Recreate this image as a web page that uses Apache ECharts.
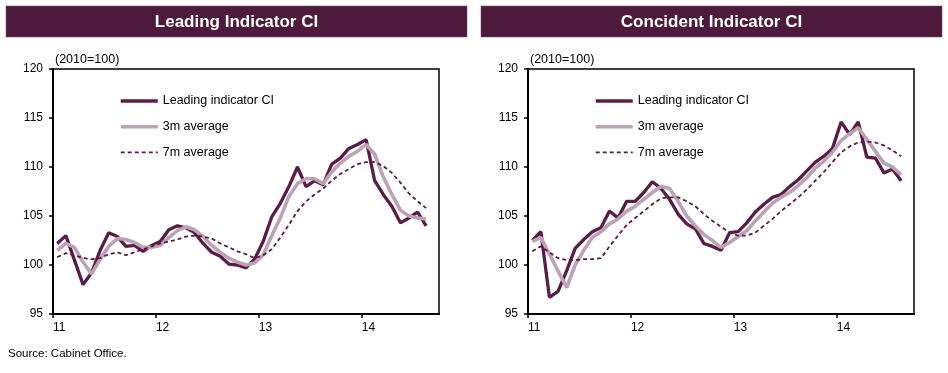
<!DOCTYPE html>
<html>
<head>
<meta charset="utf-8">
<script src="https://cdn.jsdelivr.net/npm/echarts@6/dist/echarts.min.js"></script>
<style>
html,body{margin:0;padding:0;background:#fff;}
#main{width:948px;height:373px;}
</style>
</head>
<body>
<div id="main"></div>
<script>
// Year tick labels (Jan of each year)
const yearLabels = ['11', '12', '13', '14'];
const seriesNames = ['Leading indicator CI', '3m average', '7m average'];

// Monthly values, Jan 2011 .. Aug 2014 (2010=100)
const leadingCI = [102.2, 103.0, 100.5, 98.0, 99.2, 101.5, 103.3, 102.9, 101.9, 102.0, 101.4, 102.0,
  102.4, 103.6, 104.0, 103.8, 103.3, 102.2, 101.3, 100.9, 100.1, 100.0, 99.7, 100.6,
  102.4, 104.9, 106.3, 108.0, 110.0, 108.0, 108.6, 108.2, 110.3, 110.9, 111.9, 112.3,
  112.8, 108.6, 107.2, 106.0, 104.3, 104.8, 105.4, 104.0];
const leading3m = [101.5, 102.2, 101.8, 100.3, 99.1, 100.6, 101.9, 102.7, 102.6, 102.3, 101.8, 101.8,
  102.0, 102.8, 103.5, 103.9, 103.6, 102.9, 102.0, 101.3, 100.7, 100.3, 100.0, 100.2,
  101.0, 103.0, 104.8, 107.0, 108.3, 108.8, 108.8, 108.3, 109.5, 110.4, 111.1, 111.6,
  112.3, 111.3, 109.0, 107.2, 105.6, 105.0, 104.8, 104.7];
const leading7m = [100.8, 101.2, 101.0, 100.7, 100.6, 100.7, 101.1, 101.3, 101.0, 101.3, 101.6, 101.9,
  102.2, 102.4, 102.6, 102.9, 103.0, 102.9, 102.7, 102.2, 101.8, 101.4, 101.1, 100.7,
  101.0, 101.6, 102.8, 104.1, 105.5, 106.5, 107.2, 107.8, 108.6, 109.3, 109.8, 110.3,
  110.5, 110.5, 110.1, 109.4, 108.4, 107.3, 106.5, 105.8];

const coincidentCI = [102.5, 103.4, 96.7, 97.3, 99.4, 101.7, 102.6, 103.4, 103.8, 105.5, 104.8, 106.5,
  106.5, 107.4, 108.5, 107.8, 106.7, 105.2, 104.2, 103.7, 102.2, 101.9, 101.5, 103.3,
  103.4, 104.3, 105.4, 106.2, 106.9, 107.2, 108.0, 108.7, 109.6, 110.5, 111.1, 111.9,
  114.6, 113.3, 114.6, 111.0, 110.9, 109.4, 109.8, 108.6];
const coincident3m = [102.4, 102.8, 101.1, 99.4, 97.7, 100.0, 101.5, 102.8, 103.4, 104.2, 104.7, 105.5,
  106.0, 106.7, 107.4, 108.0, 107.8, 106.5, 105.0, 104.0, 103.1, 102.5, 101.8, 102.3,
  102.9, 103.5, 104.5, 105.4, 106.3, 106.9, 107.4, 108.1, 108.9, 109.9, 110.6, 111.5,
  112.7, 113.4, 114.0, 112.8, 111.6, 110.4, 110.0, 109.2];
const coincident7m = [101.4, 101.9, 101.3, 100.7, 100.5, 100.5, 100.6, 100.6, 100.7, 101.9, 103.0, 104.1,
  104.8, 105.5, 106.2, 106.8, 106.9, 106.9, 106.5, 106.0, 105.2, 104.5, 103.9, 103.3,
  103.0, 103.0, 103.3, 104.0, 104.7, 105.5, 106.2, 106.9, 107.7, 108.6, 109.5, 110.5,
  111.5, 112.1, 112.5, 112.6, 112.5, 112.2, 111.7, 111.1];

const DARK = '#5A1C45';
const LIGHT = '#BBA3B3';
const BAR = '#4E1A3B';
const FONT = '"Liberation Sans", Arial, sans-serif';
const YEAR_TICKS = [0, 12, 24, 36];

// month index -> mid-month position on the month axis
function pts(arr) { return arr.map((v, i) => [i + 0.5, v]); }

function xAxisFor(g) {
  return {
    type: 'value', gridIndex: g, min: 0, max: 45,
    axisLine: { show: true, onZero: false, lineStyle: { color: '#000', width: 2 } },
    axisTick: { show: true, length: 4, customValues: YEAR_TICKS, lineStyle: { color: '#000', width: 1.5 } },
    axisLabel: {
      customValues: YEAR_TICKS,
      formatter: v => yearLabels[Math.round(v / 12)] || '',
      align: 'left', margin: 8, fontSize: 12, color: '#000', fontFamily: FONT
    },
    splitLine: { show: false }
  };
}
function yAxisFor(g) {
  return {
    type: 'value', gridIndex: g, min: 95, max: 120, interval: 5,
    axisLine: { show: true, lineStyle: { color: '#000', width: 2 } },
    axisTick: { show: true, length: 4, lineStyle: { color: '#000', width: 1.5 } },
    axisLabel: { margin: 10, fontSize: 12, color: '#000', fontFamily: FONT },
    splitLine: { show: false }
  };
}
function seriesFor(g, main, avg3, avg7) {
  return [
    { name: seriesNames[0], type: 'line', xAxisIndex: g, yAxisIndex: g, data: pts(main), symbol: 'none',
      lineStyle: { color: DARK, width: 3.3 }, itemStyle: { color: DARK }, z: 2 },
    { name: seriesNames[1], type: 'line', xAxisIndex: g, yAxisIndex: g, data: pts(avg3), symbol: 'none',
      lineStyle: { color: LIGHT, width: 3.6 }, itemStyle: { color: LIGHT }, z: 3 },
    { name: seriesNames[2], type: 'line', xAxisIndex: g, yAxisIndex: g, data: pts(avg7), symbol: 'none',
      lineStyle: { color: DARK, width: 1.8, type: [4, 3] }, itemStyle: { color: DARK }, z: 4 }
  ];
}
function legendFor(left) {
  const hidden = { opacity: 0, borderWidth: 0 };
  return {
    orient: 'vertical', left: left, top: 94, padding: 0,
    itemWidth: 37, itemHeight: 14, itemGap: 11.7,
    itemStyle: hidden,
    textStyle: { fontSize: 12.5, color: '#000', fontFamily: FONT, lineHeight: 14 },
    data: [
      { name: seriesNames[0], itemStyle: hidden, lineStyle: { width: 3.5 } },
      { name: seriesNames[1], itemStyle: hidden, lineStyle: { width: 3.5 } },
      { name: seriesNames[2], itemStyle: hidden, lineStyle: { width: 1.6 } }
    ]
  };
}
function headerFor(x, text) {
  return [
    { type: 'rect', shape: { x: x, y: 6, width: 461, height: 31 }, style: { fill: BAR, stroke: '#7a4a68', lineWidth: 0.5 }, silent: true },
    { type: 'text', style: { text: text, x: x + 230.5, y: 22, textAlign: 'center', textVerticalAlign: 'middle',
      font: 'bold 17px ' + FONT, fill: '#fff' }, silent: true },
    { type: 'text', style: { text: '(2010=100)', x: x + 49, y: 60, textAlign: 'left', textVerticalAlign: 'middle',
      font: '12.5px ' + FONT, fill: '#000' }, silent: true }
  ];
}

const chart = echarts.init(document.getElementById('main'), null, { renderer: 'canvas' });
chart.setOption({
  animation: false,
  backgroundColor: '#fff',
  grid: [
    { left: 53, top: 69, width: 386, height: 245, show: true, borderColor: '#000', borderWidth: 1.5, backgroundColor: 'transparent' },
    { left: 528, top: 69, width: 386, height: 245, show: true, borderColor: '#000', borderWidth: 1.5, backgroundColor: 'transparent' }
  ],
  xAxis: [xAxisFor(0), xAxisFor(1)],
  yAxis: [yAxisFor(0), yAxisFor(1)],
  legend: [legendFor(119), legendFor(594)],
  series: [].concat(
    seriesFor(0, leadingCI, leading3m, leading7m),
    seriesFor(1, coincidentCI, coincident3m, coincident7m)
  ),
  graphic: [].concat(
    headerFor(6, 'Leading Indicator CI'),
    headerFor(481, 'Concident Indicator CI'),
    [{ type: 'text', style: { text: 'Source: Cabinet Office.', x: 8, y: 354, textAlign: 'left', textVerticalAlign: 'middle',
      font: '11.5px ' + FONT, fill: '#000' }, silent: true }]
  )
});
</script>
</body>
</html>
